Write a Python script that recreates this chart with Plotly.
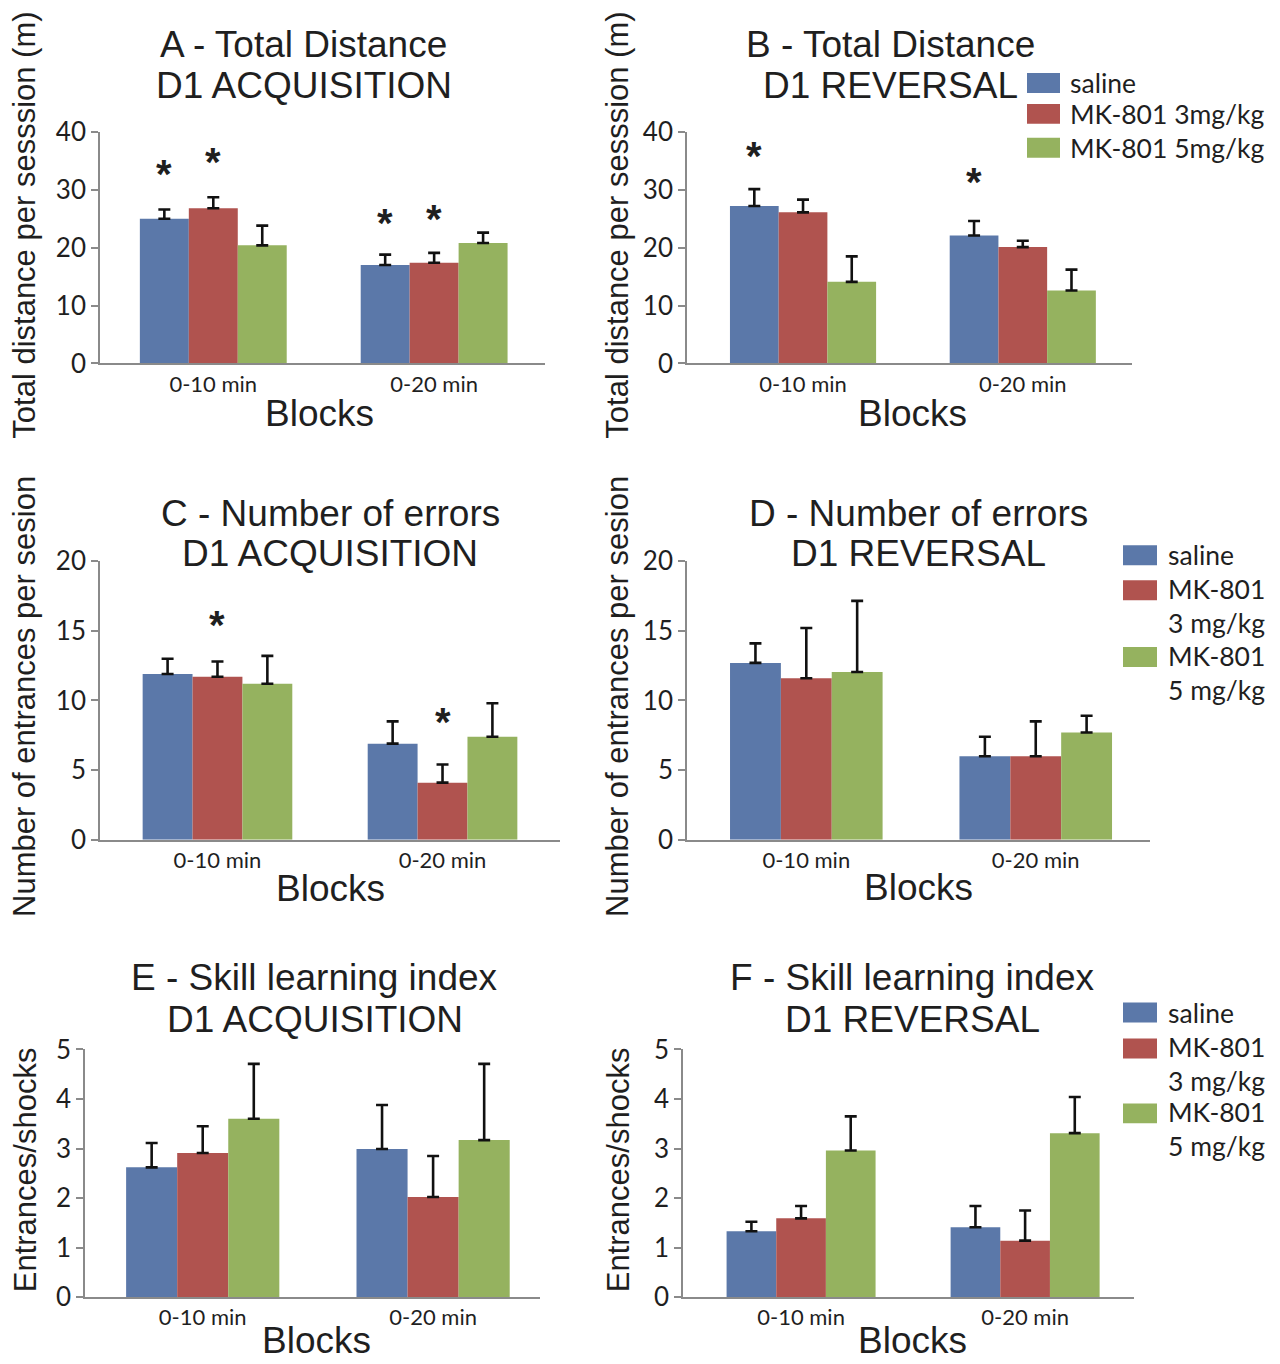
import plotly.graph_objects as go

W, H = 1280, 1364

categories = ["0-10 min", "0-20 min"]
series_names = ["saline", "MK-801 3mg/kg", "MK-801 5mg/kg"]
colors = ["#5B78A9", "#B0534F", "#95B25F"]

# Panel A - Total distance, acquisition
A_saline = [25.0, 17.0]
A_mk3 = [26.8, 17.4]
A_mk5 = [20.4, 20.8]
A_saline_err = [1.6, 1.8]
A_mk3_err = [1.9, 1.7]
A_mk5_err = [3.4, 1.8]

# Panel B - Total distance, reversal
B_saline = [27.2, 22.1]
B_mk3 = [26.1, 20.1]
B_mk5 = [14.1, 12.6]
B_saline_err = [2.9, 2.5]
B_mk3_err = [2.2, 1.1]
B_mk5_err = [4.4, 3.6]

# Panel C - Number of errors, acquisition
C_saline = [11.9, 6.9]
C_mk3 = [11.7, 4.1]
C_mk5 = [11.2, 7.4]
C_saline_err = [1.1, 1.6]
C_mk3_err = [1.1, 1.3]
C_mk5_err = [2.0, 2.4]

# Panel D - Number of errors, reversal
D_saline = [12.7, 6.0]
D_mk3 = [11.6, 6.0]
D_mk5 = [12.05, 7.7]
D_saline_err = [1.4, 1.4]
D_mk3_err = [3.6, 2.5]
D_mk5_err = [5.1, 1.2]

# Panel E - Skill learning index, acquisition
E_saline = [2.62, 2.99]
E_mk3 = [2.91, 2.02]
E_mk5 = [3.60, 3.17]
E_saline_err = [0.49, 0.89]
E_mk3_err = [0.54, 0.83]
E_mk5_err = [1.11, 1.54]

# Panel F - Skill learning index, reversal
F_saline = [1.33, 1.41]
F_mk3 = [1.59, 1.14]
F_mk5 = [2.96, 3.31]
F_saline_err = [0.19, 0.43]
F_mk3_err = [0.25, 0.61]
F_mk5_err = [0.69, 0.73]

# y-axis ticks
dist_ticks = [0, 10, 20, 30, 40]
err_ticks = [0, 5, 10, 15, 20]
skill_ticks = [0, 1, 2, 3, 4, 5]

# Significance asterisks: (panel, category index, series index, y value)
stars = [
    ("A", 0, 0, 33.3), ("A", 0, 1, 35.3), ("A", 1, 0, 24.7), ("A", 1, 1, 25.5),
    ("B", 0, 0, 36.4), ("B", 1, 0, 31.9),
    ("C", 0, 1, 15.6), ("C", 1, 1, 8.7),
]

TITLE_FONT = "Liberation Sans, Arial, sans-serif"
TICK_FONT = "Lato, Open Sans, sans-serif"
TXT = "#1f1f1f"
AX = "#8a8a8a"
BARGAP = 0.335

# page offset / scale of the rendered figure in the photographed window
OX, OY, SY = 8.0, 24.0, 0.978


def fx(x):
    return (x - OX) / W


def fy(y):
    return 1 - ((y - OY) / SY) / H


panels = [
    dict(key="A", data=(A_saline, A_mk3, A_mk5), err=(A_saline_err, A_mk3_err, A_mk5_err),
         ticks=dist_ticks, xpx=(100, 545), ypx=(363, 131), xr=(-0.513, 1.502),
         t1="A - Total Distance", t2="D1 ACQUISITION", tc=303.5, ty=(44, 85),
         ytitle="Total distance per sesssion (m)", ytx=25, yty=225, bx=319, by=413),
    dict(key="B", data=(B_saline, B_mk3, B_mk5), err=(B_saline_err, B_mk3_err, B_mk5_err),
         ticks=dist_ticks, xpx=(687, 1132), ypx=(363, 131), xr=(-0.528, 1.497),
         t1="B - Total Distance", t2="D1 REVERSAL", tc=890, ty=(44, 85),
         ytitle="Total distance per sesssion (m)", ytx=618, yty=225, bx=912, by=413),
    dict(key="C", data=(C_saline, C_mk3, C_mk5), err=(C_saline_err, C_mk3_err, C_mk5_err),
         ticks=err_ticks, xpx=(100, 560), ypx=(840, 561), xr=(-0.522, 1.522),
         t1="C - Number of errors", t2="D1 ACQUISITION", tc=330, ty=(513, 553),
         ytitle="Number of entrances per sesion", ytx=25, yty=697, bx=330, by=889),
    dict(key="D", data=(D_saline, D_mk3, D_mk5), err=(D_saline_err, D_mk3_err, D_mk5_err),
         ticks=err_ticks, xpx=(687, 1150), ypx=(840, 561), xr=(-0.52, 1.498),
         t1="D - Number of errors", t2="D1 REVERSAL", tc=918.5, ty=(513, 553),
         ytitle="Number of entrances per sesion", ytx=618, yty=697, bx=918, by=888),
    dict(key="E", data=(E_saline, E_mk3, E_mk5), err=(E_saline_err, E_mk3_err, E_mk5_err),
         ticks=skill_ticks, xpx=(85, 540), ypx=(1298, 1050), xr=(-0.511, 1.464),
         t1="E - Skill learning index", t2="D1 ACQUISITION", tc=314.5, ty=(978, 1020),
         ytitle="Entrances/shocks", ytx=25, yty=1171, bx=316, by=1341),
    dict(key="F", data=(F_saline, F_mk3, F_mk5), err=(F_saline_err, F_mk3_err, F_mk5_err),
         ticks=skill_ticks, xpx=(683, 1134), ypx=(1298, 1050), xr=(-0.527, 1.486),
         t1="F - Skill learning index", t2="D1 REVERSAL", tc=912, ty=(978, 1020),
         ytitle="Entrances/shocks", ytx=618, yty=1171, bx=912, by=1341),
]

fig = go.Figure()
annotations = []
shapes = []
layout_axes = {}
panel_axis = {}

for i, p in enumerate(panels):
    n = i + 1
    xa = "x" if n == 1 else f"x{n}"
    ya = "y" if n == 1 else f"y{n}"
    panel_axis[p["key"]] = (xa, ya)
    for s in range(3):
        fig.add_trace(go.Bar(
            x=categories, y=p["data"][s], name=series_names[s],
            marker=dict(color=colors[s], line=dict(width=0)),
            error_y=dict(type="data", symmetric=False, array=p["err"][s],
                         arrayminus=[0] * len(categories),
                         color="#111111", thickness=2.6, width=6),
            xaxis=xa, yaxis=ya, showlegend=False, offsetgroup=str(s),
        ))
    xkey = "xaxis" if n == 1 else f"xaxis{n}"
    ykey = "yaxis" if n == 1 else f"yaxis{n}"
    layout_axes[xkey] = dict(
        domain=[fx(p["xpx"][0]), fx(p["xpx"][1])], range=list(p["xr"]),
        anchor=ya, type="category", showline=True, linecolor=AX, linewidth=1.6,
        ticks="", showgrid=False, zeroline=False,
        tickfont=dict(family=TICK_FONT, size=22, color=TXT),
    )
    ymax = p["ticks"][-1]
    layout_axes[ykey] = dict(
        domain=[fy(p["ypx"][0]), fy(p["ypx"][1])], range=[0, ymax],
        anchor=xa, tickvals=p["ticks"], showline=True, linecolor=AX, linewidth=1.6,
        ticks="outside", ticklen=7, tickcolor=AX, tickwidth=1.6,
        showgrid=False, zeroline=False,
        tickfont=dict(family=TICK_FONT, size=26, color=TXT),
    )
    # titles (two lines)
    for txt, yy in zip((p["t1"], p["t2"]), p["ty"]):
        annotations.append(dict(
            text=txt, x=fx(p["tc"]), y=fy(yy), xref="paper", yref="paper",
            xanchor="center", yanchor="middle", showarrow=False,
            font=dict(family=TITLE_FONT, size=37, color=TXT)))
    # x-axis title
    annotations.append(dict(
        text="Blocks", x=fx(p["bx"]), y=fy(p["by"]), xref="paper", yref="paper",
        xanchor="center", yanchor="middle", showarrow=False,
        font=dict(family=TITLE_FONT, size=37, color=TXT)))
    # y-axis title
    annotations.append(dict(
        text=p["ytitle"], x=fx(p["ytx"]), y=fy(p["yty"]), xref="paper", yref="paper",
        xanchor="center", yanchor="middle", showarrow=False, textangle=-90,
        font=dict(family=TITLE_FONT, size=31, color=TXT)))

# asterisks
gw = 1 - BARGAP
for key, ci, si, yv in stars:
    xa, ya = panel_axis[key]
    annotations.append(dict(
        text="<b>*</b>", x=ci + (si - 1) * gw / 3, y=yv, xref=xa, yref=ya,
        xanchor="center", yanchor="middle", showarrow=False, yshift=-3,
        font=dict(family=TITLE_FONT, size=40, color=TXT)))

# legends (drawn manually to match the wide colour patches)
# each row: (label text, patch centre y, text centre y)
legend_sets = [
    dict(px=(1027, 1060), text_x=1068, size=26.5, rows=[
        ("saline", 82, 82), ("MK-801 3mg/kg", 113, 113), ("MK-801 5mg/kg", 147, 147)]),
    dict(px=(1123, 1157), text_x=1166, size=26.5, rows=[
        ("saline", 555, 555), ("MK-801<br>3 mg/kg", 590, 606),
        ("MK-801<br>5 mg/kg", 657, 673)]),
    dict(px=(1123, 1157), text_x=1166, size=26.5, rows=[
        ("saline", 1013, 1013), ("MK-801<br>3 mg/kg", 1049, 1065),
        ("MK-801<br>5 mg/kg", 1114, 1130)]),
]
for lg in legend_sets:
    for s, (txt, patch_y, text_y) in enumerate(lg["rows"]):
        shapes.append(dict(
            type="rect", xref="paper", yref="paper",
            x0=fx(lg["px"][0]), x1=fx(lg["px"][1]),
            y0=fy(patch_y + 10), y1=fy(patch_y - 10),
            fillcolor=colors[s], line=dict(width=0)))
        annotations.append(dict(
            text=txt, x=fx(lg["text_x"]), y=fy(text_y),
            xref="paper", yref="paper",
            xanchor="left", yanchor="middle", align="left", showarrow=False,
            font=dict(family=TICK_FONT, size=lg["size"], color=TXT)))

fig.update_layout(
    width=W, height=H, autosize=False,
    margin=dict(l=0, r=0, t=0, b=0),
    paper_bgcolor="white", plot_bgcolor="white",
    barmode="group", bargap=BARGAP, bargroupgap=0,
    annotations=annotations, shapes=shapes,
    **layout_axes,
)

fig.write_html("out.html")
